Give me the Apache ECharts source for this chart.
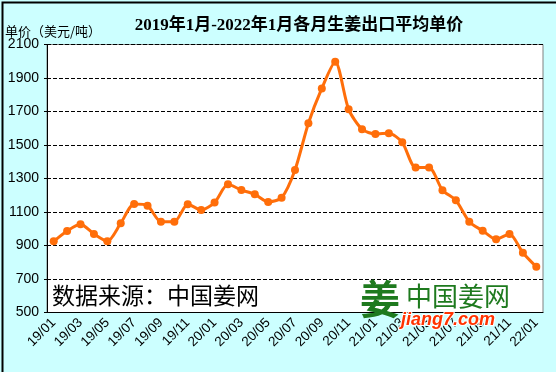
<!DOCTYPE html>
<html><head><meta charset="utf-8">
<script src="https://cdn.jsdelivr.net/npm/echarts@6/dist/echarts.min.js"></script>
<style>html,body{margin:0;padding:0;background:#fff}#c{width:556px;height:372px}</style>
</head><body><div id="c"></div>
<script>
var categories = ["19/01","19/02","19/03","19/04","19/05","19/06","19/07","19/08","19/09","19/10","19/11","19/12",
"20/01","20/02","20/03","20/04","20/05","20/06","20/07","20/08","20/09","20/10","20/11","20/12",
"21/01","21/02","21/03","21/04","21/05","21/06","21/07","21/08","21/09","21/10","21/11","21/12","22/01"];
var prices = [925,987,1027,969,925,1033,1148,1138,1042,1042,1146,1112,
1156,1265,1231,1206,1160,1185,1351,1630,1838,1997,1713,1594,
1566,1570,1516,1365,1365,1230,1170,1042,988,937,969,857,773];
var yTicks = {min:500, max:2100, interval:200};

var chart = echarts.init(document.getElementById('c'), null, {renderer:'canvas'});
chart.setOption({
  backgroundColor:'#CCFFFF',
  animation:false,
  title:{text:'2019年1月-2022年1月各月生姜出口平均单价', left:294, textAlign:'center', top:12,
    textStyle:{fontSize:17, fontWeight:'bold', color:'#000', fontFamily:'Liberation Serif, "Noto Sans CJK SC", serif'}},
  grid:{left:47, right:13, top:44.5, bottom:59.5, show:true, backgroundColor:'#fff', borderColor:'#808080', borderWidth:1},
  xAxis:{type:'category', data:categories, boundaryGap:true,
    axisLine:{lineStyle:{color:'#000', width:1}},
    axisTick:{show:false},
    axisLabel:{interval:1, rotate:45, fontSize:13.5, color:'#000', margin:8, fontFamily:'Liberation Sans, Arial, sans-serif'}},
  yAxis:{type:'value', min:yTicks.min, max:yTicks.max, interval:yTicks.interval,
    axisLine:{show:true, lineStyle:{color:'#000'}},
    axisTick:{show:true, length:3, lineStyle:{color:'#000'}},
    axisLabel:{fontSize:14, color:'#000', margin:8, formatter:function(v){return String(v);}, fontFamily:'Liberation Sans, Arial, sans-serif'},
    splitLine:{show:true, lineStyle:{color:'#000', type:[4,2], width:1}}},
  series:[{type:'line', data:prices, smooth:0.25, symbol:'circle', symbolSize:8,
    lineStyle:{color:'#FF6E0A', width:3}, itemStyle:{color:'#FF6E0A'}, z:5}],
  graphic:[
    {type:'rect', left:0, top:0, shape:{width:555, height:371}, style:{fill:'none', stroke:'#000', lineWidth:2}, z:100},
    {type:'text', left:5, top:25, style:{text:'单价（美元/吨）', fontSize:13, fill:'#000', fontFamily:'"Noto Sans CJK SC", sans-serif'}, z:10},
    {type:'text', left:52, top:284, style:{text:'数据来源：中国姜网', fontSize:23, fill:'#000', fontFamily:'"Noto Sans CJK SC", sans-serif'}, z:10},
    {type:'text', left:360, top:279, style:{text:'姜', fontSize:40, fill:'#1E7A1E', fontWeight:'bold', fontFamily:'"Noto Sans CJK SC", sans-serif'}, z:10},
    {type:'text', left:406, top:283, style:{text:'中国姜网', fontSize:26, fill:'#1E7A1E', fontFamily:'"Noto Sans CJK SC", sans-serif'}, z:10},
    {type:'text', left:400, top:310, style:{text:'jiang7.com', fontSize:18, fontWeight:'bold', fontStyle:'italic', fill:'#FF3300', stroke:'#fff', lineWidth:2, fontFamily:'Liberation Sans, Arial, sans-serif'}, z:10}
  ]
});
</script></body></html>
